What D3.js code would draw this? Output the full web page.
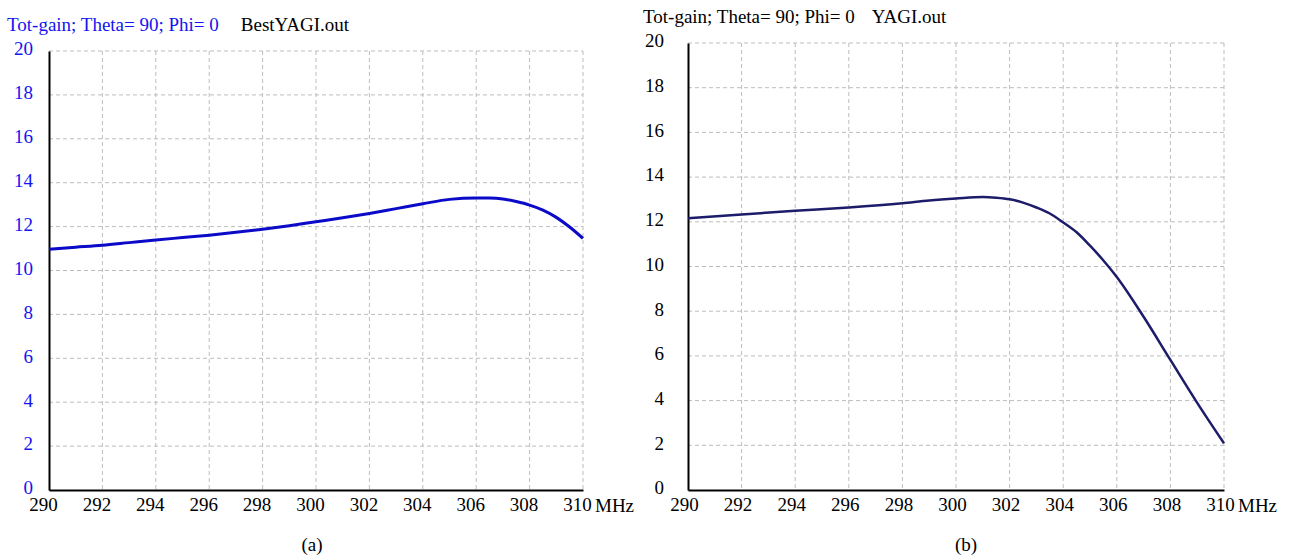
<!DOCTYPE html>
<html>
<head>
<meta charset="utf-8">
<script src="https://cdnjs.cloudflare.com/ajax/libs/d3/7.8.5/d3.min.js"></script>
<style>
  body { margin: 0; background: #fff; }
  text { font-family: "Liberation Serif", "Times New Roman", serif; }
</style>
</head>
<body>
<script>
// tick values
var xTicks = [290, 292, 294, 296, 298, 300, 302, 304, 306, 308, 310];
var yTicks = [0, 2, 4, 6, 8, 10, 12, 14, 16, 18, 20];

// (a) BestYAGI.out
var freqA = [290, 291, 292, 293, 294, 295, 296, 297, 298, 299, 300, 301, 302, 303, 304, 305, 306, 306.5, 307, 307.5, 308, 308.5, 309, 309.5, 310];
var gainA = [10.97, 11.06, 11.15, 11.27, 11.39, 11.50, 11.61, 11.74, 11.88, 12.04, 12.22, 12.40, 12.60, 12.82, 13.04, 13.24, 13.30, 13.30, 13.26, 13.14, 12.98, 12.75, 12.42, 11.98, 11.46];

// (b) YAGI.out
var freqB = [290, 292, 294, 296, 298, 299, 300, 301, 301.5, 302, 302.5, 303, 303.5, 304, 304.5, 305, 305.5, 306, 307, 308, 309, 310];
var gainB = [12.16, 12.33, 12.49, 12.64, 12.83, 12.95, 13.04, 13.11, 13.08, 13.01, 12.86, 12.64, 12.37, 11.97, 11.53, 10.93, 10.27, 9.53, 7.75, 5.82, 3.90, 2.09];

function drawPanel(svg, p){
    var x = d3.scaleLinear().domain([290, 310]).range([p.left, p.right]);
    var y = d3.scaleLinear().domain([0, 20]).range([p.bottom, p.top]);

    var g = svg.append("g");

    // dashed grid
    g.selectAll("line.vg")
        .data(xTicks.slice(1))
        .enter().append("line")
        .attr("x1", function(d){ return x(d); })
        .attr("x2", function(d){ return x(d); })
        .attr("y1", p.top)
        .attr("y2", p.bottom)
        .attr("stroke", "#bdbdbd")
        .attr("stroke-dasharray", "4,3");

    g.selectAll("line.hg")
        .data(yTicks.slice(1))
        .enter().append("line")
        .attr("x1", p.left)
        .attr("x2", p.right)
        .attr("y1", function(d){ return y(d); })
        .attr("y2", function(d){ return y(d); })
        .attr("stroke", "#bdbdbd")
        .attr("stroke-dasharray", "4,3");

    // axes
    var xAxis = g.append("g")
        .attr("transform", "translate(0," + p.bottom + ")")
        .call(d3.axisBottom(x).tickValues(xTicks).tickSize(0).tickPadding(8));
    xAxis.select(".domain").attr("stroke", "#000").attr("stroke-width", 2);
    xAxis.selectAll("text")
        .attr("dx", p.xdx)
        .attr("font-size", "19px")
        .attr("font-family", "Liberation Serif")
        .attr("fill", "#000");

    var yAxis = g.append("g")
        .attr("transform", "translate(" + p.left + ",0)")
        .call(d3.axisLeft(y).tickValues(yTicks).tickSize(0).tickPadding(p.ypad));
    yAxis.select(".domain").attr("stroke", "#000").attr("stroke-width", 2);
    yAxis.selectAll("text")
        .attr("dy", "0.2em")
        .attr("font-size", "19px")
        .attr("font-family", "Liberation Serif")
        .attr("fill", p.yColor);

    // unit
    g.append("text")
        .attr("x", p.right + p.mhzDx)
        .attr("y", p.bottom + 21.5)
        .attr("font-size", "19px")
        .text("MHz");

    // curve
    var line = d3.line()
        .x(function(d){ return x(d[0]); })
        .y(function(d){ return y(d[1]); })
        .curve(d3.curveMonotoneX);

    g.append("path")
        .datum(d3.zip(p.freq, p.gain))
        .attr("fill", "none")
        .attr("stroke", p.lineColor)
        .attr("stroke-width", p.lineWidth)
        .attr("d", line);

    // title
    var t = g.append("text")
        .attr("x", p.titleX)
        .attr("y", p.titleY)
        .attr("font-size", "19px");
    t.append("tspan").attr("fill", p.yColor).text("Tot-gain; Theta= 90; Phi= 0");
    t.append("tspan").attr("fill", "#000").attr("dx", p.fileGap).text(p.file);

    // caption
    g.append("text")
        .attr("x", p.capX)
        .attr("y", 551)
        .attr("text-anchor", "middle")
        .attr("font-size", "19px")
        .text(p.caption);
}

function init(){
    var svg = d3.select("body")
                .append("svg")
                .attr("width", 1289)
                .attr("height", 559);

    drawPanel(svg, {
        left: 49, right: 583, top: 51, bottom: 490,
        freq: freqA, gain: gainA,
        lineColor: "#0a0ac8", lineWidth: 3,
        yColor: "#1414f0", ypad: 16, xdx: -6, mhzDx: 12,
        titleX: 7, titleY: 31, fileGap: 22, file: "BestYAGI.out",
        capX: 312, caption: "(a)"
    });

    drawPanel(svg, {
        left: 688, right: 1224, top: 43, bottom: 490,
        freq: freqB, gain: gainB,
        lineColor: "#1c1c6a", lineWidth: 2.5,
        yColor: "#000", ypad: 24, xdx: -4, mhzDx: 14,
        titleX: 643, titleY: 23, fileGap: 17, file: "YAGI.out",
        capX: 966, caption: "(b)"
    });
}
window.onload = init;
</script>
</body>
</html>
